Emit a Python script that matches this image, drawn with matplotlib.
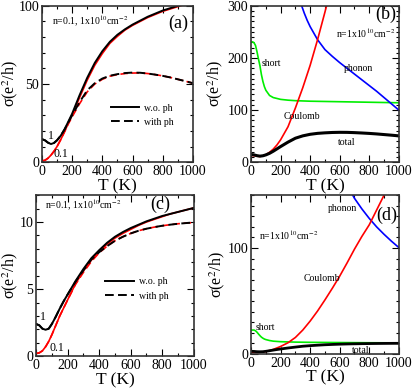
import matplotlib
matplotlib.use("Agg")
import matplotlib.pyplot as plt
from matplotlib.ticker import MultipleLocator

plt.rcParams["font.family"] = ["Liberation Serif", "DejaVu Serif"]
plt.rcParams["mathtext.fontset"] = "stix"

RED = "#ff0000"
GREEN = "#00ee00"
BLUE = "#0000ff"

# ---- panel (a): sigma vs T, n = 1 and 0.1 (x10^10 cm^-2) ----
T_a = [0, 20, 40, 60, 80, 100, 125, 150, 175, 200, 250, 300, 350, 400, 450,
       500, 550, 600, 650, 700, 750, 800, 850, 900, 950, 1000]
a_n1_wo = [14.7, 14.0, 12.5, 11.6, 12.3, 14.0, 17.0, 21.0, 26.0, 31.0, 43.0, 54.0,
           63.5, 71.0, 77.0, 81.5, 85.0, 88.0, 90.5, 93.0, 95.0, 97.0, 98.5,
           100.0, 101.5, 103.0]
a_n01_wo = [0.8, 1.2, 2.5, 4.5, 7.0, 10.0, 14.5, 19.5, 25.0, 30.0, 41.5, 52.5,
            62.0, 69.5, 76.0, 80.5, 84.5, 87.5, 90.0, 92.5, 94.5, 96.5, 98.0,
            99.5, 101.0, 102.5]
a_n1_ph = [14.7, 14.0, 12.5, 11.6, 12.3, 14.0, 17.0, 21.0, 25.5, 30.0, 38.5, 46.0,
           50.5, 53.5, 55.3, 56.3, 57.0, 57.3, 57.2, 56.7, 56.0, 55.2, 54.2,
           53.0, 51.8, 50.5]
a_n01_ph = [0.8, 1.2, 2.5, 4.5, 7.0, 10.0, 14.5, 19.5, 24.5, 29.0, 37.5, 45.0,
            50.0, 53.0, 55.0, 56.0, 56.7, 57.0, 57.1, 56.7, 56.0, 55.2, 54.2,
            53.0, 51.8, 50.5]

# ---- panel (c): same quantities, second parameter set ----
T_c = T_a
c_n1_wo = [2.4, 2.3, 2.05, 1.97, 2.05, 2.4, 2.95, 3.55, 4.1, 4.6, 5.6, 6.5, 7.3,
           7.9, 8.45, 8.9, 9.25, 9.55, 9.8, 10.05, 10.25, 10.45, 10.6, 10.75,
           10.9, 11.05]
c_n01_wo = [0.2, 0.25, 0.4, 0.7, 1.1, 1.6, 2.3, 3.0, 3.6, 4.2, 5.4, 6.35, 7.15,
            7.8, 8.35, 8.8, 9.15, 9.45, 9.75, 10.0, 10.2, 10.4, 10.6, 10.75,
            10.9, 11.05]
c_n1_ph = [2.4, 2.3, 2.05, 1.97, 2.05, 2.4, 2.95, 3.55, 4.1, 4.6, 5.55, 6.4, 7.2,
           7.75, 8.2, 8.6, 8.9, 9.15, 9.35, 9.5, 9.62, 9.72, 9.8, 9.87, 9.92, 9.96]
c_n01_ph = [0.2, 0.25, 0.4, 0.7, 1.1, 1.6, 2.3, 3.0, 3.6, 4.2, 5.35, 6.25, 7.05,
            7.7, 8.2, 8.6, 8.9, 9.15, 9.35, 9.5, 9.62, 9.72, 9.8, 9.87, 9.92, 9.96]

# ---- panel (b): contributions, n = 1x10^10 ----
T_short = [0, 10, 20, 30, 40, 50, 60, 70, 80, 90, 100, 125, 150, 200, 250, 300,
           400, 500, 600, 700, 800, 900, 1000]
b_short = [230, 231, 229, 224, 212, 198, 185, 168, 155, 145, 138, 128, 124, 120.5,
           119, 118, 117, 116.5, 116, 115.5, 115, 114.5, 114]
T_phon = [330, 340, 360, 380, 400, 450, 500, 550, 600, 650, 700, 750, 800, 850,
          900, 950, 1000]
b_phonon = [312, 302, 286, 272, 260, 235, 216, 203, 191, 180, 169, 158, 147, 136,
            124, 112, 100]
T_coul = [0, 20, 40, 60, 80, 100, 125, 150, 175, 200, 250, 300, 350, 400, 450,
          500, 520]
b_coulomb = [13, 12.5, 11.5, 11, 12, 14.5, 19, 25, 33, 43, 68, 104, 143, 186, 235,
             288, 310]
b_total = a_n1_ph

# ---- panel (d): contributions, second parameter set ----
d_short = [22.5, 22.5, 22.5, 21.8, 20.5, 18.8, 17.2, 15.8, 14.8, 14.0, 13.5, 12.6,
           12.0, 11.5, 11.3, 11.1, 10.9, 10.8, 10.7, 10.6, 10.5, 10.45, 10.4]
T_phon_d = [680, 700, 750, 800, 850, 900, 950, 1000]
d_phonon = [152, 147, 137, 128, 120, 113, 106.5, 100.5]
T_coul_d = [0, 50, 100, 150, 200, 250, 300, 350, 400, 450, 500, 550, 600, 650,
            700, 750, 800, 850, 900, 920]
d_coulomb = [1.5, 1.3, 2.2, 4.2, 7.0, 10.5, 15.5, 22.5, 31, 40.5, 51, 62, 73.5, 86,
             99, 111, 122, 136, 150, 156]
d_total = c_n1_ph


def style_axes(ax, ymax, ymajor, yminor, ylab_x):
    ax.set_xlim(0, 1000)
    ax.set_ylim(0, ymax)
    ax.xaxis.set_major_locator(MultipleLocator(200))
    ax.xaxis.set_minor_locator(MultipleLocator(100))
    ax.yaxis.set_major_locator(MultipleLocator(ymajor))
    ax.yaxis.set_minor_locator(MultipleLocator(yminor))
    ax.tick_params(which="both", direction="in", top=True, right=True,
                   labelsize=10, pad=2)
    ax.tick_params(which="major", length=5, width=0.8)
    ax.tick_params(which="minor", length=2.5, width=0.8)
    for sp in ax.spines.values():
        sp.set_linewidth(1.2)
        sp.set_color("#333333")
    ax.set_xlabel("T (K)", fontsize=12.5, labelpad=0)
    ax.set_ylabel(r"σ(e$^2$/h)", fontsize=11.5)
    # x is where the right edge of the rotated label sits
    ax.yaxis.set_label_coords(ylab_x, 0.5)


fig = plt.figure(figsize=(4.15, 3.88), dpi=100)
ax_a = fig.add_axes([0.101, 0.582, 0.364, 0.403])
ax_b = fig.add_axes([0.605, 0.582, 0.356, 0.403])
ax_c = fig.add_axes([0.087, 0.082, 0.380, 0.415])
ax_d = fig.add_axes([0.605, 0.088, 0.356, 0.409])

dash = (0, (4.5, 2.2))
small = 7

# (a)
ax_a.plot(T_a, a_n01_wo, color=RED, lw=1.2)
ax_a.plot(T_a, a_n01_ph, color=RED, lw=1.2, ls=dash)
ax_a.plot(T_a, a_n1_wo, color="black", lw=1.4, label="w.o. ph")
ax_a.plot(T_a, a_n1_ph, color="black", lw=1.4, ls=dash, label="with ph")
style_axes(ax_a, 100, 50, 10, -0.143)
ax_a.text(66, 90, r"n=0.1, 1x10$^{10}$cm$^{-2}$", fontsize=small, va="center")
ax_a.text(970, 89, "(a)", fontsize=13, ha="right", va="center")
ax_a.text(60, 17, "1", fontsize=8.5, ha="center", va="center")
ax_a.text(80, 5, "0.1", fontsize=8.5, ha="left", va="center")
ax_a.legend(loc="upper left", bbox_to_anchor=(0.455, 0.375), frameon=False,
            fontsize=small, handlelength=2.9, handletextpad=0.5,
            borderpad=0, borderaxespad=0, labelspacing=0.55)

# (b)
ax_b.plot(T_short, b_short, color=GREEN, lw=1.2)
ax_b.plot(T_phon, b_phonon, color=BLUE, lw=1.2)
ax_b.plot(T_coul, b_coulomb, color=RED, lw=1.2)
ax_b.plot(T_a, b_total, color="black", lw=2.2)
style_axes(ax_b, 300, 100, 10, -0.175)
ax_b.text(985, 283, "(b)", fontsize=13, ha="right", va="center")
ax_b.text(574, 248, r"n=1x10$^{10}$cm$^{-2}$", fontsize=small, va="center")
ax_b.text(74, 190, "short", fontsize=small, va="center")
ax_b.text(628, 179, "phonon", fontsize=small, va="center")
ax_b.text(223, 87, "Coulomb", fontsize=small, va="center")
ax_b.text(588, 38, "total", fontsize=small, va="center")

# (c)
ax_c.plot(T_c, c_n01_wo, color=RED, lw=1.2)
ax_c.plot(T_c, c_n01_ph, color=RED, lw=1.2, ls=dash)
ax_c.plot(T_c, c_n1_wo, color="black", lw=1.4, label="w.o. ph")
ax_c.plot(T_c, c_n1_ph, color="black", lw=1.4, ls=dash, label="with ph")
style_axes(ax_c, 12, 5, 1, -0.10)
ax_c.text(57, 11.2, r"n=0.1, 1x10$^{10}$cm$^{-2}$", fontsize=small, va="center")
ax_c.text(850, 11.35, "(c)", fontsize=13, ha="right", va="center")
ax_c.text(44, 2.9, "1", fontsize=8.5, ha="center", va="center")
ax_c.text(85, 0.6, "0.1", fontsize=8.5, ha="left", va="center")
ax_c.legend(loc="upper left", bbox_to_anchor=(0.44, 0.49), frameon=False,
            fontsize=small, handlelength=2.9, handletextpad=0.5,
            borderpad=0, borderaxespad=0, labelspacing=0.55)

# (d)
ax_d.plot(T_short, d_short, color=GREEN, lw=1.2)
ax_d.plot(T_phon_d, d_phonon, color=BLUE, lw=1.2)
ax_d.plot(T_coul_d, d_coulomb, color=RED, lw=1.2)
ax_d.plot(T_c, d_total, color="black", lw=2.0)
style_axes(ax_d, 150, 100, 10, -0.163)
ax_d.text(990, 131, "(d)", fontsize=13, ha="right", va="center")
ax_d.text(54, 112, r"n=1x10$^{10}$cm$^{-2}$", fontsize=small, va="center")
ax_d.text(520, 137, "phonon", fontsize=small, va="center")
ax_d.text(358, 71, "Coulomb", fontsize=small, va="center")
ax_d.text(34, 25, "short", fontsize=small, va="center")
ax_d.text(680, 3, "total", fontsize=small, va="center")

fig.savefig("out.png", dpi=100)
